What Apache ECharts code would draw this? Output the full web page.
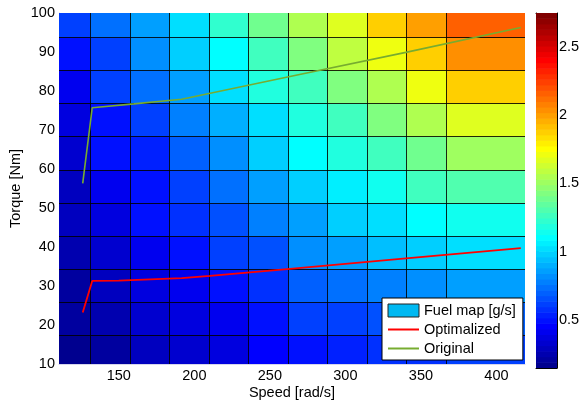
<!DOCTYPE html>
<html>
<head>
<meta charset="utf-8">
<script src="https://cdn.jsdelivr.net/npm/echarts@6/dist/echarts.min.js"></script>
<style>
html,body{margin:0;padding:0;background:#fff;}
#chart{width:582px;height:403px;}
</style>
</head>
<body>
<div id="chart"></div>
<script>
// ---- data ----
const speedEdges = [110.4, 130.9, 157.1, 183.3, 209.4, 235.6, 261.8, 288.0, 314.2, 340.3, 366.5, 418.9];
const torqueEdges = [10, 17.1, 25.6, 34.1, 42.6, 51.1, 59.6, 68.1, 76.6, 85.1, 93.6, 100];
// fuel rate [g/s], one array per torque band (bottom to top), one value per speed band
const fuelBand0  = [0.166, 0.224, 0.276, 0.328, 0.387, 0.439, 0.504, 0.537, 0.563, 0.582, 0.602];
const fuelBand1  = [0.192, 0.263, 0.322, 0.374, 0.426, 0.485, 0.602, 0.634, 0.654, 0.673, 0.693];
const fuelBand2  = [0.224, 0.289, 0.354, 0.419, 0.504, 0.569, 0.699, 0.745, 0.777, 0.810, 0.843];
const fuelBand3  = [0.263, 0.341, 0.426, 0.504, 0.602, 0.667, 0.797, 0.862, 0.927, 0.992, 1.025];
const fuelBand4  = [0.276, 0.374, 0.472, 0.556, 0.667, 0.764, 0.862, 0.960, 1.025, 1.090, 1.123];
const fuelBand5  = [0.289, 0.426, 0.504, 0.602, 0.745, 0.862, 0.960, 1.070, 1.155, 1.285, 1.298];
const fuelBand6  = [0.328, 0.472, 0.550, 0.686, 0.829, 0.960, 1.090, 1.168, 1.285, 1.402, 1.494];
const fuelBand7  = [0.387, 0.485, 0.602, 0.764, 0.895, 1.038, 1.168, 1.285, 1.415, 1.565, 1.656];
const fuelBand8  = [0.426, 0.602, 0.732, 0.875, 1.005, 1.175, 1.285, 1.415, 1.565, 1.695, 1.858];
const fuelBand9  = [0.472, 0.634, 0.797, 0.960, 1.090, 1.253, 1.428, 1.578, 1.708, 1.871, 2.034];
const fuelBand10 = [0.602, 0.745, 0.875, 1.039, 1.208, 1.383, 1.547, 1.690, 1.859, 2.016, 2.164];
const fuelBands = [fuelBand0, fuelBand1, fuelBand2, fuelBand3, fuelBand4, fuelBand5,
                   fuelBand6, fuelBand7, fuelBand8, fuelBand9, fuelBand10];

const optSpeed  = [126.1, 132.4, 150.0, 191.6, 210.3, 263.3, 340.1, 416.1];
const optTorque = [23.2, 31.3, 31.4, 32.0, 32.6, 34.4, 37.1, 39.7];
const origSpeed  = [126.1, 132.4, 160.0, 191.6, 263.3, 340.0, 416.1];
const origTorque = [56.3, 75.7, 76.7, 77.9, 83.7, 89.9, 96.3];

const xTicks = [150, 200, 250, 300, 350, 400];
const cbarTicks = [0.5, 1, 1.5, 2, 2.5];
const cMin = 0.146, cMax = 2.75;

// ---- MATLAB jet(64) colormap ----
function jet64() {
  const m = 64, n = 16;
  const u = [];
  for (let k = 1; k <= n; k++) u.push(k / n);
  for (let k = 1; k <= n - 1; k++) u.push(1);
  for (let k = n; k >= 1; k--) u.push(k / n);
  const gOff = Math.ceil(n / 2) - (m % 4 === 1 ? 1 : 0);
  const r = new Array(m).fill(0), g = new Array(m).fill(0), b = new Array(m).fill(0);
  for (let k = 0; k < u.length; k++) {
    const gi = gOff + k + 1, ri = gi + n, bi = gi - n;
    if (gi >= 1 && gi <= m) g[gi - 1] = u[k];
    if (ri >= 1 && ri <= m) r[ri - 1] = u[k];
    if (bi >= 1 && bi <= m) b[bi - 1] = u[k];
  }
  const out = [];
  for (let i = 0; i < m; i++) {
    out.push('rgb(' + Math.round(r[i] * 255) + ',' + Math.round(g[i] * 255) + ',' + Math.round(b[i] * 255) + ')');
  }
  return out;
}
const JET = jet64();
function jetColor(v) {
  let idx = Math.floor((v - cMin) / (cMax - cMin) * 64);
  if (idx < 0) idx = 0;
  if (idx > 63) idx = 63;
  return JET[idx];
}

// ---- build series data ----
const cellData = [];
for (let j = 0; j < fuelBands.length; j++) {
  for (let i = 0; i < fuelBands[j].length; i++) {
    cellData.push([speedEdges[i], speedEdges[i + 1], torqueEdges[j], torqueEdges[j + 1], fuelBands[j][i]]);
  }
}
const barData = [];
for (let i = 0; i < 64; i++) {
  barData.push([cMin + (cMax - cMin) * i / 64, cMin + (cMax - cMin) * (i + 1) / 64, i]);
}
const optData = optSpeed.map((s, i) => [s, optTorque[i]]);
const origData = origSpeed.map((s, i) => [s, origTorque[i]]);

const FONT = "'Liberation Sans', Arial, Helvetica, sans-serif";
const FS = 14.5;
const lineCol = 'rgba(0,0,0,0.85)';

function renderCell(params, api) {
  const x0 = api.value(0), x1 = api.value(1), y0 = api.value(2), y1 = api.value(3), v = api.value(4);
  const pA = api.coord([x0, y1]);
  const pB = api.coord([x1, y0]);
  const L = Math.round(pA[0]), T = Math.round(pA[1]), R = Math.round(pB[0]), B = Math.round(pB[1]);
  const children = [{
    type: 'rect',
    shape: { x: L, y: T, width: R - L, height: B - T },
    style: { fill: jetColor(v) }
  }];
  if (x0 > speedEdges[0] + 1e-6) {
    children.push({ type: 'line', shape: { x1: L + 0.5, y1: T, x2: L + 0.5, y2: B }, style: { stroke: lineCol, lineWidth: 1 } });
  }
  if (y0 > torqueEdges[0] + 1e-6) {
    children.push({ type: 'line', shape: { x1: L, y1: B - 0.5, x2: R, y2: B - 0.5 }, style: { stroke: lineCol, lineWidth: 1 } });
  }
  return { type: 'group', children: children };
}

function renderBand(params, api) {
  const v0 = api.value(0), v1 = api.value(1), i = api.value(2);
  const pA = api.coord([0, v1]);
  const pB = api.coord([1, v0]);
  return {
    type: 'rect',
    shape: { x: pA[0], y: pA[1] - 0.3, width: pB[0] - pA[0], height: pB[1] - pA[1] + 0.6 },
    style: { fill: JET[i] }
  };
}

const chart = echarts.init(document.getElementById('chart'), null, { renderer: 'canvas', width: 582, height: 403 });

const option = {
  animation: false,
  backgroundColor: '#ffffff',
  textStyle: { fontFamily: FONT },
  grid: [
    { left: 59, top: 13, width: 466, height: 351, containLabel: false, outerBoundsMode: 'none' },
    { left: 536, top: 13, width: 21, height: 355, containLabel: false, outerBoundsMode: 'none' }
  ],
  xAxis: [
    {
      type: 'value', gridIndex: 0, min: speedEdges[0], max: speedEdges[speedEdges.length - 1],
      name: 'Speed [rad/s]', nameLocation: 'middle', nameGap: 21, nameMoveOverlap: false,
      nameTextStyle: { fontFamily: FONT, fontSize: FS, color: '#000' },
      axisLine: { show: true, lineStyle: { color: '#d6d6ec', width: 1 } },
      axisTick: { show: false },
      splitLine: { show: false },
      axisLabel: { customValues: xTicks, fontFamily: FONT, fontSize: FS, color: '#000', margin: 4 }
    },
    {
      type: 'value', gridIndex: 1, min: 0, max: 1, position: 'bottom',
      axisLine: { show: true, onZero: false, lineStyle: { color: '#000', width: 1 } },
      axisTick: { show: false }, axisLabel: { show: false }, splitLine: { show: false }
    },
    {
      type: 'value', gridIndex: 1, min: 0, max: 1, position: 'top',
      axisLine: { show: true, onZero: false, lineStyle: { color: '#000', width: 1 } },
      axisTick: { show: false }, axisLabel: { show: false }, splitLine: { show: false }
    }
  ],
  yAxis: [
    {
      type: 'value', gridIndex: 0, min: 10, max: 100, interval: 10,
      name: 'Torque [Nm]', nameLocation: 'middle', nameGap: 35.5, nameMoveOverlap: false,
      nameTextStyle: { fontFamily: FONT, fontSize: FS, color: '#000' },
      axisLine: { show: true, lineStyle: { color: '#d6d6ec', width: 1 } },
      axisTick: { show: false },
      splitLine: { show: false },
      axisLabel: { fontFamily: FONT, fontSize: FS, color: '#000', margin: 4 }
    },
    {
      type: 'value', gridIndex: 1, min: cMin, max: cMax, position: 'right',
      axisLine: { show: true, onZero: false, lineStyle: { color: '#000', width: 1 } },
      axisTick: { show: true, inside: true, length: 3, customValues: cbarTicks, lineStyle: { color: '#000' } },
      axisLabel: { customValues: cbarTicks, fontFamily: FONT, fontSize: FS, color: '#000', margin: 2 },
      splitLine: { show: false }
    },
    {
      type: 'value', gridIndex: 1, min: cMin, max: cMax, position: 'left',
      axisLine: { show: true, onZero: false, lineStyle: { color: '#000', width: 1 } },
      axisTick: { show: true, inside: true, length: 3, customValues: cbarTicks, lineStyle: { color: '#000' } },
      axisLabel: { show: false },
      splitLine: { show: false }
    }
  ],
  legend: {
    orient: 'vertical', left: 382, top: 298,
    itemWidth: 31, itemHeight: 13, itemGap: 4,
    padding: [5, 7, 4, 5],
    backgroundColor: '#ffffff', borderColor: '#000', borderWidth: 1, borderRadius: 0,
    selectedMode: false,
    textStyle: { fontFamily: FONT, fontSize: FS, color: '#000' },
    data: [
      { name: 'Fuel map [g/s]', icon: 'rect', itemStyle: { color: '#00B9F2', borderColor: '#222', borderWidth: 1 } },
      { name: 'Optimalized', itemStyle: { opacity: 0 } },
      { name: 'Original', itemStyle: { opacity: 0 } }
    ]
  },
  series: [
    {
      name: 'Fuel map [g/s]', type: 'custom', xAxisIndex: 0, yAxisIndex: 0,
      renderItem: renderCell, data: cellData, clip: true,
      itemStyle: { color: '#00B9F2' },
      encode: { x: [0, 1], y: [2, 3] }, z: 1
    },
    {
      name: 'colorbar', type: 'custom', xAxisIndex: 1, yAxisIndex: 1,
      renderItem: renderBand, data: barData, clip: true,
      encode: { x: [], y: [0, 1] }, z: 1
    },
    {
      name: 'Optimalized', type: 'line', xAxisIndex: 0, yAxisIndex: 0,
      data: optData, symbol: 'none', showSymbol: false,
      lineStyle: { color: '#ff0000', width: 1.8 }, itemStyle: { color: '#ff0000' }, z: 3
    },
    {
      name: 'Original', type: 'line', xAxisIndex: 0, yAxisIndex: 0,
      data: origData, symbol: 'none', showSymbol: false,
      lineStyle: { color: '#77AC30', width: 1.6 }, itemStyle: { color: '#77AC30' }, z: 3
    }
  ]
};
chart.setOption(option);
</script>
</body>
</html>
